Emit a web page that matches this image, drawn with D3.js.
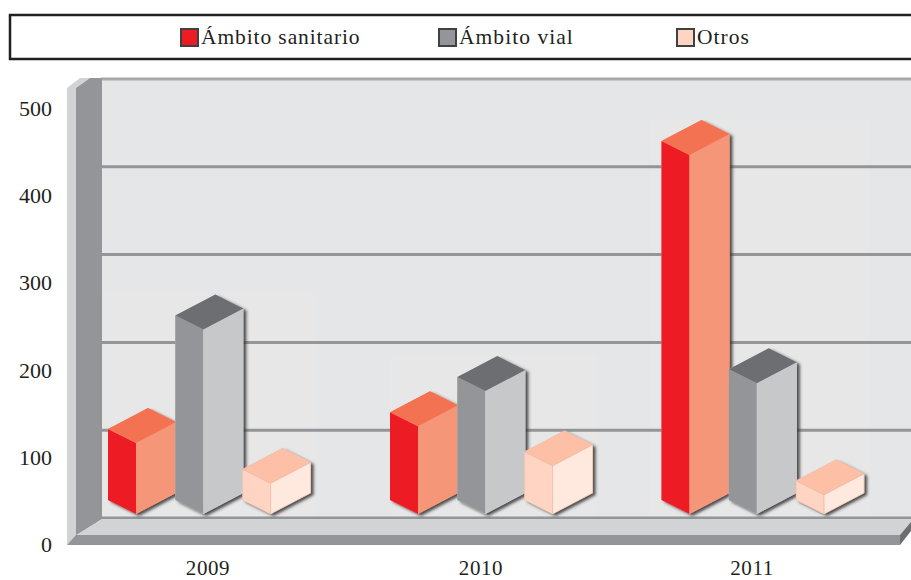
<!DOCTYPE html>
<html><head><meta charset="utf-8">
<script src="https://cdnjs.cloudflare.com/ajax/libs/d3/7.8.5/d3.min.js"></script>
<style>html,body{margin:0;background:#fff}svg{display:block}text{font-family:"Liberation Serif",serif;fill:#231f20}</style>
</head><body><svg id="c" width="911" height="580"></svg>
<script>
const years=["2009","2010","2011"];
const series=["Ámbito sanitario","Ámbito vial","Otros"];
const sanitario=[81,100,409];
const vial=[210,140,149];
const otros=[35,55,22];
const yTicks=[0,100,200,300,400,500];
const seriesValues=[sanitario,vial,otros];
const colors=[
 {front:"#ed1c24",side:"#f69679",top:"#f37252",swatch:"#ed1c24"},
 {front:"#939598",side:"#c7c8ca",top:"#6d6e71",swatch:"#939598"},
 {front:"#ffd4c2",side:"#ffe8dd",top:"#fdbfa6",swatch:"#ffd4c2"}];

const W=911,H=580;
const svg=d3.select("#c");
const defs=svg.append("defs");
const f=defs.append("filter").attr("id","sh").attr("x","-20%").attr("y","-20%").attr("width","150%").attr("height","140%");
f.append("feDropShadow").attr("dx",3).attr("dy",2).attr("stdDeviation",1.8).attr("flood-color","#303030").attr("flood-opacity",.85);

const groupX=d3.scaleOrdinal(years,[108,390,661.5]);
const barX=d3.scaleOrdinal([0,1,2],[0,67.3,134.6]);
const labelX=d3.scaleOrdinal(years,[208,481,752]);
const patchX=d3.scaleOrdinal(years,[100,390,650]);
const patchW=d3.scaleOrdinal(years,[216,207,220]);
const h=d3.scaleLinear([0,500],[0,439]);
const backY=d3.scaleLinear([0,500],[518,79]);
const tickY=d3.scaleLinear([0,500],[545,109]);
const legendX=d3.scaleOrdinal(series,[180,438,676]);
const legendSpacing=d3.scaleOrdinal(series,[0.9,1.05,1.0]);
const poly=p=>p.map(d=>d.join(",")).join(" ");

// legend
svg.append("rect").attr("x",10).attr("y",15).attr("width",W).attr("height",44).attr("fill","#fff").attr("stroke","#231f20").attr("stroke-width",2.5);
series.forEach((s,i)=>{
 svg.append("rect").attr("x",legendX(s)+1).attr("y",29).attr("width",17).attr("height",17).attr("fill",colors[i].swatch).attr("stroke","#414042").attr("stroke-width",2);
 svg.append("text").attr("x",legendX(s)+21).attr("y",44).attr("font-size",21.5).attr("letter-spacing",legendSpacing(s)).text(s);
});

// walls
svg.append("rect").attr("x",101).attr("y",78).attr("width",W-101).attr("height",441).attr("fill","#e5e6e8");
years.forEach((y,k)=>{
 const tallest=d3.max(seriesValues,s=>s[k]);
 svg.append("rect").attr("x",patchX(y)).attr("y",514-h(tallest)-36).attr("width",patchW(y)).attr("height",h(tallest)+40).attr("fill","#e7e7e8");
});
svg.selectAll(".grid").data(yTicks).join("line").attr("x1",101).attr("x2",W)
 .attr("y1",backY).attr("y2",backY).attr("stroke",d=>d===500?"#a7a9ac":"#939598").attr("stroke-width",3);
svg.append("polygon").attr("points",poly([[67,88],[80,78],[90,78],[76,88]])).attr("fill","#d1d3d4");
svg.append("polygon").attr("points",poly([[76,88],[90,78],[102,78],[102,519],[76,536]])).attr("fill","#939598");
svg.append("polygon").attr("points",poly([[67,88],[76,88],[76,536],[67,545]])).attr("fill","#d1d3d4");
svg.append("polygon").attr("points",poly([[102,519],[W,519],[W,523],[900,535],[76,535]])).attr("fill","#d1d3d4");
svg.append("polygon").attr("points",poly([[76,535],[900,535],[900,545],[67,545]])).attr("fill","#939598");
svg.append("polygon").attr("points",poly([[900,535],[W,522],[W,531],[900,545]])).attr("fill","#6d6e71");

// bars
const FW=28,SW=40,DY=14,TY=21,BASE=514;
years.forEach((y,k)=>{
 seriesValues.forEach((vals,i)=>{
  const v=vals[k],x=groupX(y)+barX(i),c=colors[i],yc=BASE-h(v);
  const g=svg.append("g");
  g.append("polygon").attr("filter","url(#sh)").attr("points",poly([[x,yc-DY],[x+SW,yc-DY-TY],[x+FW+SW,yc-TY],[x+FW+SW,BASE-TY],[x+FW,BASE],[x,BASE-DY]])).attr("fill",c.side);
  const st=i===2?"#e8b9a3":"none";
  g.append("polygon").attr("points",poly([[x,yc-DY],[x+FW,yc],[x+FW,BASE],[x,BASE-DY]])).attr("fill",c.front).attr("stroke",st).attr("stroke-width",.6);
  g.append("polygon").attr("points",poly([[x+FW,yc],[x+FW+SW,yc-TY],[x+FW+SW,BASE-TY],[x+FW,BASE]])).attr("fill",c.side).attr("stroke",st).attr("stroke-width",.6);
  g.append("polygon").attr("points",poly([[x,yc-DY],[x+SW,yc-DY-TY],[x+FW+SW,yc-TY],[x+FW,yc]])).attr("fill",c.top).attr("stroke",st).attr("stroke-width",.6);
 });
});

// labels
svg.selectAll(".yl").data(yTicks).join("text").attr("x",52).attr("y",d=>tickY(d)+7).attr("text-anchor","end").attr("font-size",22).text(d=>d);
svg.selectAll(".xl").data(years).join("text").attr("x",labelX).attr("y",575).attr("text-anchor","middle").attr("font-size",21).attr("letter-spacing",.6).text(d=>d);
</script></body></html>
